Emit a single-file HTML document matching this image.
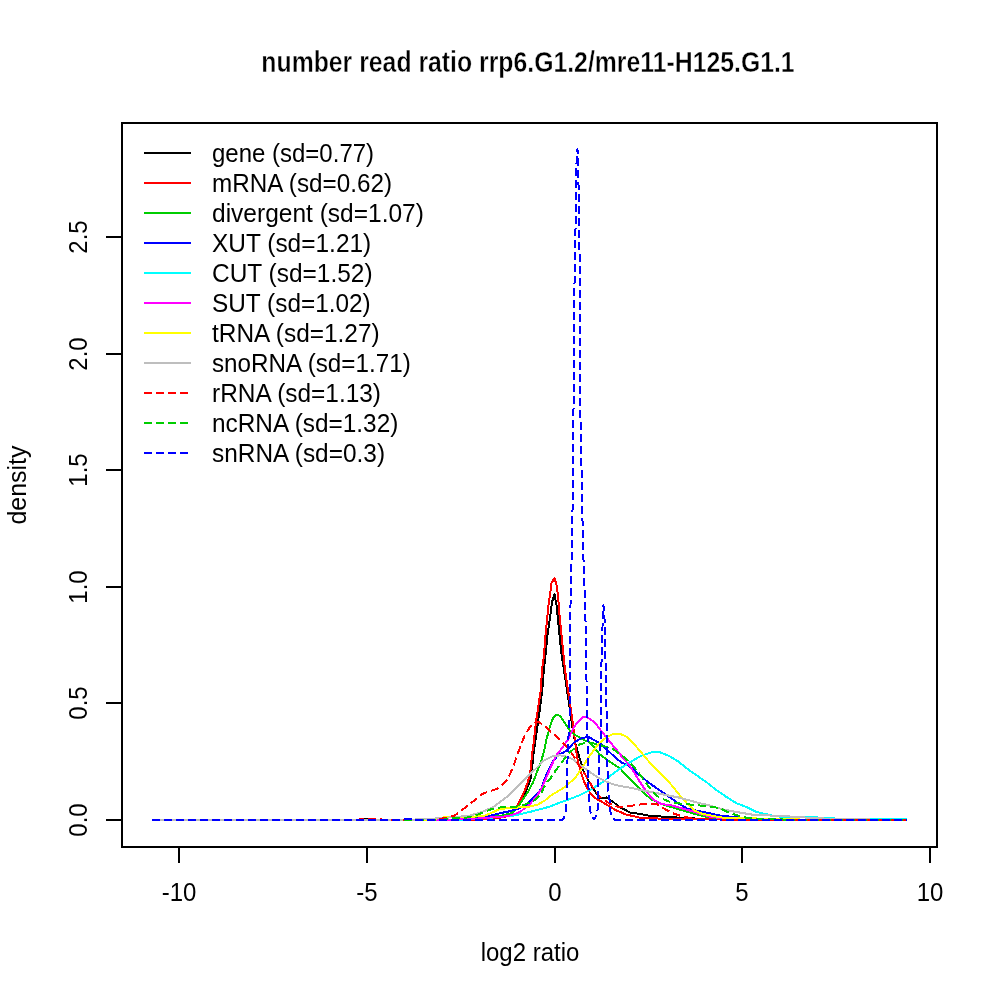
<!DOCTYPE html><html><head><meta charset="utf-8"><style>html,body{margin:0;padding:0;background:#fff;}svg{display:block;will-change:transform;}text{font-family:"Liberation Sans",sans-serif;fill:#000;}</style></head><body>
<svg width="1000" height="1000" viewBox="0 0 1000 1000">
<rect x="0" y="0" width="1000" height="1000" fill="#fff"/>
<text transform="translate(528,72) scale(1,1.22)" font-size="24.8" font-weight="bold" text-anchor="middle" stroke="#fff" stroke-width="0.35">number read ratio rrp6.G1.2/mre11-H125.G1.1</text>
<rect x="122" y="123" width="815" height="724" fill="none" stroke="#000" stroke-width="2" shape-rendering="crispEdges"/>
<line x1="179" y1="847" x2="179" y2="863" stroke="#000" stroke-width="2" shape-rendering="crispEdges"/>
<text transform="translate(179,901) scale(1,1.1)" font-size="24" text-anchor="middle">-10</text>
<line x1="367" y1="847" x2="367" y2="863" stroke="#000" stroke-width="2" shape-rendering="crispEdges"/>
<text transform="translate(367,901) scale(1,1.1)" font-size="24" text-anchor="middle">-5</text>
<line x1="555" y1="847" x2="555" y2="863" stroke="#000" stroke-width="2" shape-rendering="crispEdges"/>
<text transform="translate(555,901) scale(1,1.1)" font-size="24" text-anchor="middle">0</text>
<line x1="742" y1="847" x2="742" y2="863" stroke="#000" stroke-width="2" shape-rendering="crispEdges"/>
<text transform="translate(742,901) scale(1,1.1)" font-size="24" text-anchor="middle">5</text>
<line x1="930" y1="847" x2="930" y2="863" stroke="#000" stroke-width="2" shape-rendering="crispEdges"/>
<text transform="translate(930,901) scale(1,1.1)" font-size="24" text-anchor="middle">10</text>
<line x1="106" y1="820" x2="122" y2="820" stroke="#000" stroke-width="2" shape-rendering="crispEdges"/>
<text transform="translate(87,820) rotate(-90) scale(1,1.1)" font-size="24" text-anchor="middle">0.0</text>
<line x1="106" y1="703" x2="122" y2="703" stroke="#000" stroke-width="2" shape-rendering="crispEdges"/>
<text transform="translate(87,703) rotate(-90) scale(1,1.1)" font-size="24" text-anchor="middle">0.5</text>
<line x1="106" y1="587" x2="122" y2="587" stroke="#000" stroke-width="2" shape-rendering="crispEdges"/>
<text transform="translate(87,587) rotate(-90) scale(1,1.1)" font-size="24" text-anchor="middle">1.0</text>
<line x1="106" y1="470" x2="122" y2="470" stroke="#000" stroke-width="2" shape-rendering="crispEdges"/>
<text transform="translate(87,470) rotate(-90) scale(1,1.1)" font-size="24" text-anchor="middle">1.5</text>
<line x1="106" y1="354" x2="122" y2="354" stroke="#000" stroke-width="2" shape-rendering="crispEdges"/>
<text transform="translate(87,354) rotate(-90) scale(1,1.1)" font-size="24" text-anchor="middle">2.0</text>
<line x1="106" y1="237" x2="122" y2="237" stroke="#000" stroke-width="2" shape-rendering="crispEdges"/>
<text transform="translate(87,237) rotate(-90) scale(1,1.1)" font-size="24" text-anchor="middle">2.5</text>
<text transform="translate(530,961) scale(1,1.1)" font-size="24" text-anchor="middle">log2 ratio</text>
<text transform="translate(26,485) rotate(-90) scale(1,1.1)" font-size="24" text-anchor="middle" textLength="79" lengthAdjust="spacingAndGlyphs">density</text>
<path d="M152.0,820.0 L360.0,820.0 L363.0,818.6 L374.0,818.6 L377.0,820.0 L470.0,820.0 L490.0,819.0 L505.0,817.0 L512.0,813.5 L518.0,807.0 L523.0,797.0 L526.3,790.0 L529.0,783.5 L530.8,777.8 L532.0,770.0 L533.3,755.0 L535.5,740.0 L538.0,722.0 L540.3,706.0 L542.3,690.0 L543.8,670.0 L545.5,655.0 L547.5,635.0 L550.0,618.0 L552.0,602.0 L554.5,594.5 L556.5,605.0 L558.0,620.0 L560.0,640.0 L562.0,658.0 L564.0,670.0 L567.0,690.0 L570.0,710.0 L572.0,725.0 L575.0,742.0 L579.0,756.2 L584.0,772.3 L589.6,782.8 L595.9,792.6 L600.0,798.0 L603.0,797.8 L606.4,797.5 L612.0,801.0 L619.0,806.6 L630.0,812.5 L640.0,814.0 L649.0,815.7 L659.0,816.4 L672.0,817.0 L685.0,818.3 L720.0,819.0 L760.0,820.0 L907.0,820.0" fill="none" stroke="#000000" stroke-width="2" stroke-linejoin="round" shape-rendering="crispEdges"/>
<path d="M152.0,820.0 L470.0,820.0 L490.0,819.0 L505.0,817.0 L512.0,813.0 L516.5,807.0 L521.8,797.0 L524.8,790.4 L527.2,783.8 L529.0,777.8 L530.5,770.0 L532.0,755.0 L534.0,740.0 L536.0,722.0 L538.4,706.0 L540.8,690.0 L542.0,670.0 L544.0,655.0 L545.5,635.0 L547.0,620.0 L548.5,605.0 L550.0,595.0 L551.5,583.0 L554.5,578.0 L556.5,585.0 L558.0,595.0 L559.5,615.0 L561.0,630.0 L562.5,645.0 L564.0,660.0 L565.0,670.0 L568.0,690.0 L571.0,710.0 L573.0,725.0 L575.4,744.5 L577.2,758.0 L580.5,771.0 L584.0,781.4 L589.0,791.5 L594.5,797.8 L601.5,801.5 L608.0,805.5 L615.5,810.0 L626.0,814.5 L640.0,817.7 L652.0,818.3 L672.0,819.0 L720.0,819.5 L760.0,820.0 L907.0,820.0" fill="none" stroke="#FF0000" stroke-width="2" stroke-linejoin="round" shape-rendering="crispEdges"/>
<path d="M152.0,820.0 L440.0,820.0 L465.0,819.0 L490.0,816.2 L502.0,815.6 L512.0,813.0 L518.8,806.0 L523.6,798.2 L528.4,791.0 L533.2,782.0 L537.0,772.0 L540.8,762.0 L544.0,751.6 L546.4,739.6 L549.6,727.6 L552.0,720.4 L554.0,716.5 L557.0,714.5 L560.0,716.0 L563.5,721.0 L567.0,726.0 L570.0,731.0 L575.0,735.0 L580.0,737.5 L585.0,740.5 L588.0,741.2 L594.4,747.6 L599.2,754.0 L608.0,760.4 L614.0,764.5 L620.0,768.5 L633.0,782.0 L646.0,795.0 L652.5,800.0 L665.5,805.3 L678.5,809.2 L691.5,813.0 L704.5,816.4 L720.0,818.3 L760.0,819.5 L800.0,820.0 L907.0,820.0" fill="none" stroke="#00CD00" stroke-width="2" stroke-linejoin="round" shape-rendering="crispEdges"/>
<path d="M152.0,820.0 L450.0,820.0 L470.0,819.5 L485.0,817.5 L488.0,816.2 L500.0,813.2 L509.0,811.4 L518.0,809.0 L527.0,804.2 L535.0,796.4 L541.0,789.2 L545.5,777.0 L549.0,769.0 L553.0,761.0 L558.8,754.6 L563.6,752.5 L568.0,749.2 L573.6,742.8 L580.0,738.8 L585.6,737.4 L589.6,737.4 L596.0,741.2 L601.6,744.4 L608.0,750.8 L616.0,758.0 L622.0,763.0 L627.6,764.5 L635.0,771.0 L640.0,775.6 L649.5,783.2 L659.0,789.8 L668.5,796.5 L678.0,803.1 L687.5,808.8 L697.0,810.7 L706.5,812.6 L720.0,815.5 L735.0,817.2 L750.0,818.5 L780.0,819.5 L907.0,820.0" fill="none" stroke="#0000FF" stroke-width="2" stroke-linejoin="round" shape-rendering="crispEdges"/>
<path d="M152.0,820.0 L440.0,820.0 L470.0,819.5 L490.0,817.8 L514.0,815.6 L532.0,811.4 L550.0,806.6 L560.0,802.5 L570.0,799.0 L580.0,795.0 L590.0,790.0 L596.5,786.0 L605.0,780.5 L609.5,776.3 L619.3,769.1 L628.4,763.2 L640.8,756.0 L652.5,752.0 L659.0,752.0 L668.5,755.6 L678.0,761.3 L687.5,769.0 L697.0,775.6 L706.5,782.2 L716.0,789.8 L726.8,797.2 L736.4,803.2 L746.0,806.8 L755.6,811.6 L765.2,814.0 L776.0,816.4 L790.0,817.0 L806.0,816.8 L823.0,817.8 L840.0,818.8 L907.0,818.8" fill="none" stroke="#00FFFF" stroke-width="2" stroke-linejoin="round" shape-rendering="crispEdges"/>
<path d="M152.0,820.0 L440.0,820.0 L461.0,819.2 L475.0,818.8 L490.0,817.5 L508.0,816.2 L520.0,812.0 L529.0,804.8 L536.8,796.4 L542.2,786.8 L547.0,776.0 L550.5,768.0 L554.0,760.0 L556.0,755.6 L562.4,747.6 L568.0,739.6 L573.6,727.6 L577.6,722.0 L584.0,716.4 L588.0,718.0 L594.4,722.0 L600.0,729.2 L605.6,736.4 L612.0,744.4 L620.0,754.0 L622.0,757.0 L628.4,764.0 L634.8,773.6 L640.0,782.0 L646.0,791.0 L653.8,800.0 L661.6,804.0 L672.0,805.5 L685.0,809.2 L698.0,813.0 L711.0,817.0 L730.0,819.0 L760.0,820.0 L907.0,820.0" fill="none" stroke="#FF00FF" stroke-width="2" stroke-linejoin="round" shape-rendering="crispEdges"/>
<path d="M152.0,820.0 L428.0,820.0 L442.0,817.6 L458.0,816.5 L475.0,816.5 L485.0,815.5 L490.0,813.5 L500.0,809.0 L512.0,807.8 L524.0,807.2 L530.0,806.6 L538.0,804.5 L545.0,800.5 L550.0,796.0 L565.0,787.0 L575.0,778.0 L582.0,768.0 L590.0,755.2 L598.0,744.8 L606.0,737.6 L612.4,734.4 L620.4,734.0 L626.8,736.8 L633.0,743.0 L640.0,750.9 L649.5,762.3 L659.0,771.8 L666.6,779.4 L673.2,787.0 L679.9,795.5 L687.5,804.0 L695.0,810.7 L701.7,813.6 L711.2,815.5 L720.0,817.4 L728.0,817.8 L770.0,818.8 L800.0,819.5 L907.0,820.0" fill="none" stroke="#FFFF00" stroke-width="2" stroke-linejoin="round" shape-rendering="crispEdges"/>
<path d="M152.0,820.0 L405.0,820.0 L426.0,819.0 L440.0,818.2 L460.0,816.6 L470.0,815.6 L482.0,812.0 L494.0,806.6 L506.0,797.6 L518.0,786.2 L530.0,774.2 L536.0,768.5 L544.0,760.4 L552.0,756.4 L560.0,755.3 L568.0,757.0 L573.0,759.5 L579.0,764.3 L588.0,770.6 L597.0,776.9 L606.0,781.4 L615.0,785.0 L630.0,787.7 L639.5,789.7 L659.0,793.6 L678.5,797.5 L698.0,802.7 L710.0,805.6 L722.0,809.2 L734.0,811.6 L752.0,814.6 L770.0,815.5 L788.0,816.4 L806.0,817.6 L830.0,818.8 L870.0,819.5 L907.0,820.0" fill="none" stroke="#BEBEBE" stroke-width="2" stroke-linejoin="round" shape-rendering="crispEdges"/>
<path d="M152.0,820.0 L358.0,820.0 L362.0,818.6 L380.0,818.6 L383.0,820.0 L435.0,820.0 L440.0,818.8 L446.0,817.8 L454.0,815.7 L460.0,811.8 L466.6,806.4 L474.4,800.4 L481.0,794.7 L488.0,791.6 L492.2,790.4 L496.4,789.2 L500.0,786.8 L505.0,782.5 L508.0,778.0 L510.5,773.0 L512.5,768.0 L514.5,763.0 L517.5,754.0 L521.0,745.0 L524.5,736.0 L530.0,727.0 L536.0,722.0 L539.2,722.4 L544.8,726.0 L550.4,731.6 L553.6,734.0 L559.2,738.8 L565.0,745.0 L570.0,750.8 L573.0,755.0 L580.0,767.0 L586.0,775.8 L592.4,787.0 L598.5,795.5 L604.4,800.0 L610.2,803.9 L618.0,806.8 L624.5,806.8 L633.0,805.5 L646.0,803.6 L656.4,804.0 L663.0,808.0 L672.0,813.0 L680.0,815.7 L691.5,818.3 L710.0,819.5 L720.0,819.5" fill="none" stroke="#FF0000" stroke-width="2" stroke-linejoin="round" shape-rendering="crispEdges" stroke-dasharray="8 4"/>
<path d="M720.0,819.5 L907.0,820.0" fill="none" stroke="#FF0000" stroke-width="2" stroke-linejoin="round" shape-rendering="crispEdges" stroke-dasharray="8 4" stroke-dashoffset="9.5"/>
<path d="M152.0,820.0 L440.0,820.0 L452.8,818.4 L466.0,817.8 L475.6,815.4 L484.0,812.1 L492.0,809.0 L502.0,807.2 L514.0,807.0 L520.0,806.0 L525.0,804.5 L535.0,800.0 L541.0,794.0 L544.0,787.0 L548.0,781.0 L550.0,779.0 L556.0,770.0 L562.0,762.0 L570.0,752.0 L580.0,744.0 L590.0,742.5 L602.0,745.6 L612.4,748.8 L620.4,754.4 L628.4,760.8 L634.8,768.0 L641.0,776.0 L646.0,783.0 L652.0,791.0 L659.0,797.5 L672.0,802.7 L685.0,804.0 L698.0,805.3 L710.0,806.8 L719.6,808.0 L726.8,811.6 L736.4,815.2 L746.0,817.6 L758.0,818.8 L790.0,819.7" fill="none" stroke="#00CD00" stroke-width="2" stroke-linejoin="round" shape-rendering="crispEdges" stroke-dasharray="8 4"/>
<path d="M790.0,819.7 L790.0,819.7 L907.0,820.0" fill="none" stroke="#00CD00" stroke-width="2" stroke-linejoin="round" shape-rendering="crispEdges" stroke-dasharray="8 4" stroke-dashoffset="3"/>
<path d="M152.0,820.0 L403.0,820.0 L406.0,818.5 L413.0,818.5 L416.0,820.0 L562.0,820.0 L564.0,818.5 L566.0,810.0 L567.0,790.0 L567.5,760.0 L568.3,740.0 L569.5,720.0 L570.0,690.0 L570.2,640.0 L570.5,606.0 L571.0,570.0 L572.0,555.0 L572.5,512.0 L573.0,460.0 L573.5,410.0 L574.0,350.0 L574.5,283.0 L575.0,270.0 L575.5,230.0 L576.0,200.0 L576.0,170.0 L577.5,149.0 L578.0,170.0 L579.0,200.0 L579.5,250.0 L580.0,256.0 L580.0,395.0 L581.0,445.0 L582.0,490.0 L583.0,550.0 L584.0,570.0 L585.0,600.0 L586.0,640.0 L586.5,680.0 L587.3,720.0 L588.0,780.0 L589.0,795.0 L590.0,808.0 L591.0,816.0 L594.0,819.5 L596.5,815.0 L598.0,808.0 L598.2,785.0 L599.0,760.0 L600.5,745.0 L601.0,715.0 L601.0,680.0 L602.0,645.0 L602.5,627.0 L603.0,612.0 L603.5,605.5 L605.0,625.0 L605.5,660.0 L606.0,690.0 L606.5,710.0 L607.0,750.0 L608.0,790.0 L609.5,800.0 L610.0,810.0 L611.5,816.0 L614.0,819.5 L615.0,820.0 L720.0,820.0" fill="none" stroke="#0000FF" stroke-width="2" stroke-linejoin="round" shape-rendering="crispEdges" stroke-dasharray="8 4"/>
<path d="M720.0,820.0 L907.0,820.0" fill="none" stroke="#0000FF" stroke-width="2" stroke-linejoin="round" shape-rendering="crispEdges" stroke-dasharray="8 4" stroke-dashoffset="6"/>
<line x1="144" y1="153" x2="191" y2="153" stroke="#000000" stroke-width="2" shape-rendering="crispEdges"/>
<text transform="translate(212,162) scale(1,1.1)" font-size="24" textLength="162.06" lengthAdjust="spacingAndGlyphs">gene (sd=0.77)</text>
<line x1="144" y1="183" x2="191" y2="183" stroke="#FF0000" stroke-width="2" shape-rendering="crispEdges"/>
<text transform="translate(212,192) scale(1,1.1)" font-size="24" textLength="180.00" lengthAdjust="spacingAndGlyphs">mRNA (sd=0.62)</text>
<line x1="144" y1="213" x2="191" y2="213" stroke="#00CD00" stroke-width="2" shape-rendering="crispEdges"/>
<text transform="translate(212,222) scale(1,1.1)" font-size="24" textLength="211.88" lengthAdjust="spacingAndGlyphs">divergent (sd=1.07)</text>
<line x1="144" y1="243" x2="191" y2="243" stroke="#0000FF" stroke-width="2" shape-rendering="crispEdges"/>
<text transform="translate(212,252) scale(1,1.1)" font-size="24" textLength="159.24" lengthAdjust="spacingAndGlyphs">XUT (sd=1.21)</text>
<line x1="144" y1="273" x2="191" y2="273" stroke="#00FFFF" stroke-width="2" shape-rendering="crispEdges"/>
<text transform="translate(212,282) scale(1,1.1)" font-size="24" textLength="160.56" lengthAdjust="spacingAndGlyphs">CUT (sd=1.52)</text>
<line x1="144" y1="303" x2="191" y2="303" stroke="#FF00FF" stroke-width="2" shape-rendering="crispEdges"/>
<text transform="translate(212,312) scale(1,1.1)" font-size="24" textLength="158.74" lengthAdjust="spacingAndGlyphs">SUT (sd=1.02)</text>
<line x1="144" y1="333" x2="191" y2="333" stroke="#FFFF00" stroke-width="2" shape-rendering="crispEdges"/>
<text transform="translate(212,342) scale(1,1.1)" font-size="24" textLength="167.68" lengthAdjust="spacingAndGlyphs">tRNA (sd=1.27)</text>
<line x1="144" y1="363" x2="191" y2="363" stroke="#BEBEBE" stroke-width="2" shape-rendering="crispEdges"/>
<text transform="translate(212,372) scale(1,1.1)" font-size="24" textLength="198.70" lengthAdjust="spacingAndGlyphs">snoRNA (sd=1.71)</text>
<line x1="144" y1="393" x2="188" y2="393" stroke="#FF0000" stroke-width="2" stroke-dasharray="8 4" shape-rendering="crispEdges"/>
<text transform="translate(212,402) scale(1,1.1)" font-size="24" textLength="169.00" lengthAdjust="spacingAndGlyphs">rRNA (sd=1.13)</text>
<line x1="144" y1="423" x2="188" y2="423" stroke="#00CD00" stroke-width="2" stroke-dasharray="8 4" shape-rendering="crispEdges"/>
<text transform="translate(212,432) scale(1,1.1)" font-size="24" textLength="186.36" lengthAdjust="spacingAndGlyphs">ncRNA (sd=1.32)</text>
<line x1="144" y1="453" x2="188" y2="453" stroke="#0000FF" stroke-width="2" stroke-dasharray="8 4" shape-rendering="crispEdges"/>
<text transform="translate(212,462) scale(1,1.1)" font-size="24" textLength="173.02" lengthAdjust="spacingAndGlyphs">snRNA (sd=0.3)</text>
</svg></body></html>
